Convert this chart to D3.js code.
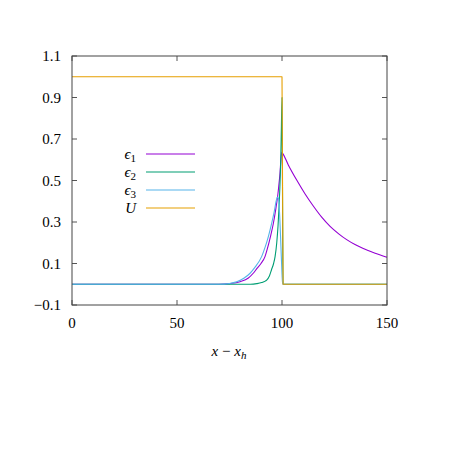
<!DOCTYPE html>
<html><head><meta charset="utf-8">
<script src="https://cdn.jsdelivr.net/npm/d3@7"></script>
<style>body{margin:0;background:#fff}svg{display:block}</style>
</head><body>
<svg id="c" width="464" height="464"></svg>
<script>
const xTicks = [0, 50, 100, 150];
const yTicks = [-0.1, 0.1, 0.3, 0.5, 0.7, 0.9, 1.1];
const seriesNames = ["eps1", "eps2", "eps3", "U"];
const seriesColors = ["#9400d3", "#009e73", "#56b4e9", "#e69f00"];

const eps1X = [0, 70, 75, 80, 84, 86.3, 88, 90, 91.9, 93, 94.5, 95.9, 97, 98, 99, 99.86, 100.3, 103, 107, 111, 114.9, 119, 122.9, 127, 130.8, 135, 138.7, 144, 150];
const eps1Y = [0, 0, 0.003, 0.012, 0.03, 0.053, 0.075, 0.1, 0.133, 0.17, 0.23, 0.294, 0.36, 0.43, 0.53, 0.636, 0.631, 0.575, 0.502, 0.435, 0.377, 0.322, 0.279, 0.243, 0.215, 0.19, 0.172, 0.151, 0.13];

const eps2X = [0, 85, 88, 90.3, 92, 92.7, 94, 95, 96, 96.7, 97.5, 98.1, 98.6, 99, 99.4, 99.7, 100, 100.3, 100.5, 150];
const eps2Y = [0, 0, 0.003, 0.008, 0.015, 0.02, 0.04, 0.07, 0.1, 0.133, 0.2, 0.28, 0.374, 0.47, 0.6, 0.75, 0.9, 0.3, 0, 0];

const eps3X = [0, 70, 75, 78.4, 82, 84.8, 87, 90.3, 92, 93.5, 95.1, 96.3, 97.2, 97.8, 98.3, 98.8, 99.5, 100, 100.3, 150];
const eps3Y = [0, 0, 0.004, 0.012, 0.03, 0.053, 0.08, 0.133, 0.18, 0.23, 0.294, 0.35, 0.40, 0.42, 0.415, 0.35, 0.18, 0.05, 0, 0];

const uX = [0, 100, 100.5, 150];
const uY = [1, 1, 0, 0];

const svg = d3.select("#c");
const L = 72, R = 387, T = 56, B = 305;
const x = d3.scaleLinear().domain([0, 150]).range([L, R]);
const y = d3.scaleLinear().domain([-0.1, 1.1]).range([B, T]);
const font = "'Liberation Serif', 'DejaVu Serif', serif";

const series = [
  {name: seriesNames[0], xs: eps1X, ys: eps1Y, color: seriesColors[0]},
  {name: seriesNames[1], xs: eps2X, ys: eps2Y, color: seriesColors[1]},
  {name: seriesNames[2], xs: eps3X, ys: eps3Y, color: seriesColors[2]},
  {name: seriesNames[3], xs: uX, ys: uY, color: seriesColors[3]}
];

const line = d3.line().x(d => x(d[0])).y(d => y(d[1])).curve(d3.curveMonotoneX);
const linear = d3.line().x(d => x(d[0])).y(d => y(d[1]));
const plot = svg.append("g");
series.forEach(s => {
  plot.append("path")
    .datum(s.xs.map((v, i) => [v, s.ys[i]]))
    .attr("fill", "none").attr("stroke", s.color).attr("stroke-width", 1.1)
    .attr("stroke-linejoin", "round")
    .attr("d", s.name === "U" ? linear : line);
});

// axes
const tickLen = 5;
const ax = svg.append("g");
const fmt = v => (v < 0 ? "\u2212" : "") + Math.abs(v).toFixed(1);
yTicks.forEach(v => {
  ax.append("line").attr("x1", L).attr("x2", L + tickLen).attr("y1", y(v)).attr("y2", y(v)).attr("stroke", "#555");
  ax.append("line").attr("x1", R).attr("x2", R - tickLen).attr("y1", y(v)).attr("y2", y(v)).attr("stroke", "#555");
  ax.append("text").attr("x", 61).attr("y", y(v) + 5).attr("text-anchor", "end")
    .attr("font-family", font).attr("font-size", 15).text(fmt(v));
});
xTicks.forEach(v => {
  ax.append("line").attr("x1", x(v)).attr("x2", x(v)).attr("y1", B).attr("y2", B - tickLen).attr("stroke", "#555");
  ax.append("line").attr("x1", x(v)).attr("x2", x(v)).attr("y1", T).attr("y2", T + tickLen).attr("stroke", "#555");
  ax.append("text").attr("x", x(v)).attr("y", 328).attr("text-anchor", "middle")
    .attr("font-family", font).attr("font-size", 15).text(String(v));
});
ax.append("rect").attr("x", L).attr("y", T).attr("width", R - L).attr("height", B - T)
  .attr("fill", "none").attr("stroke", "#444").attr("stroke-width", 1);

// x label
const xl = svg.append("text").attr("x", 229).attr("y", 356).attr("text-anchor", "middle")
  .attr("font-family", font).attr("font-size", 15);
xl.append("tspan").attr("font-style", "italic").text("x");
xl.append("tspan").text(" \u2212 ");
xl.append("tspan").attr("font-style", "italic").text("x");
xl.append("tspan").attr("font-style", "italic").attr("font-size", 11).attr("dy", 3).text("h");

// legend
const legLabels = [["\u03f5", "1"], ["\u03f5", "2"], ["\u03f5", "3"], ["U", null]];
const legY = [154, 172, 190, 208];
legLabels.forEach((lab, i) => {
  const t = svg.append("text").attr("x", 136).attr("y", legY[i] + 5).attr("text-anchor", "end")
    .attr("font-family", font).attr("font-size", 15);
  t.append("tspan").attr("font-style", "italic").text(lab[0]);
  if (lab[1]) t.append("tspan").attr("font-size", 11).attr("dy", 3).text(lab[1]);
  svg.append("line").attr("x1", 146).attr("x2", 195).attr("y1", legY[i]).attr("y2", legY[i])
    .attr("stroke", seriesColors[i]).attr("stroke-width", 1.2);
});
</script>
</body></html>
